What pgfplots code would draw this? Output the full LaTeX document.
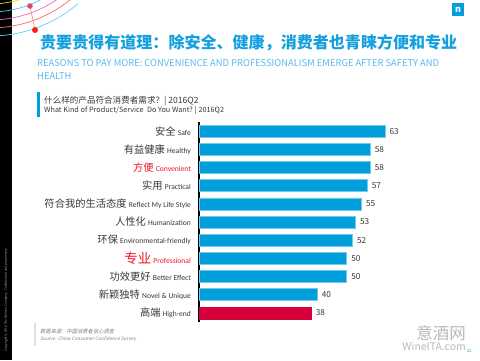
\documentclass[border=0pt]{standalone}
\usepackage{pgfplots}
\pgfplotsset{compat=1.18}
\usepackage{fontspec}
\setmainfont{Noto Sans CJK SC}
\newfontfamily\srcfont[FakeSlant=0.2]{Noto Sans CJK SC}
\newfontfamily\enf{Carlito}
\definecolor{nblue}{RGB}{0,158,219}
\definecolor{tblue}{RGB}{20,160,222}
\definecolor{lblue}{RGB}{90,185,232}
\definecolor{nred}{RGB}{214,0,58}
\definecolor{lred}{RGB}{240,20,30}
\definecolor{dgray}{RGB}{55,55,55}
\newcommand{\zh}{\fontsize{10.3}{12}\selectfont}
\newcommand{\en}{\enf\fontsize{7.6}{9}\selectfont}
\begin{document}
\begin{tikzpicture}[x=1bp,y=-1bp]
\path[use as bounding box] (0,0) rectangle (480,360);
% left strip
\fill[black] (0,0) rectangle (12,360);
\node[rotate=90, anchor=west, font=\fontsize{3.2}{4}\selectfont, text=gray!70] at (6,355) {Copyright \textcopyright{} 2016 The Nielsen Company. Confidential and proprietary.};
% decoration
\begin{scope}
\clip (0,0) rectangle (78,40);
\foreach \r/\c in {88/magenta!50, 96/purple!60, 104/yellow!80!orange, 112/cyan!70, 120/magenta!60, 128/red!60, 136/cyan!60}{
  \draw[\c, line width=0.7bp] (-10,-100) circle[radius=\r];
}
\draw[red!50, line width=0.6bp] (30,6) -- (35,30);
\end{scope}
\fill[purple!70] (30,6) circle[radius=2.8];
\fill[red!85!pink] (35,30) circle[radius=3];
% logo
\fill[nblue] (452,3) rectangle (464,16);
\node[text=white, font=\bfseries\fontsize{9}{10}\selectfont] at (458,10) {n};
% titles
\node[anchor=base west, inner sep=0pt, text=tblue, font=\bfseries\fontsize{16.1}{18}\selectfont] at (40,48) {贵要贵得有道理：除安全、健康，消费者也青睐方便和专业};
\node[anchor=base west, inner sep=0pt, text=lblue, font=\fontsize{9.4}{10}\selectfont] at (37,66) {REASONS TO PAY MORE: CONVENIENCE AND PROFESSIONALISM EMERGE AFTER SAFETY AND};
\node[anchor=base west, inner sep=0pt, text=lblue, font=\fontsize{9.4}{10}\selectfont] at (37,79) {HEALTH};
\fill[nblue] (37,92) rectangle (40,117);
\node[anchor=base west, inner sep=0pt, text=dgray, font=\fontsize{8.6}{9}\selectfont] at (44,103) {什么样的产品符合消费者需求？| 2016Q2};
\node[anchor=base west, inner sep=0pt, text=dgray, font=\fontsize{7.3}{8}\selectfont] at (44,112) {What Kind of Product/Service\ \ Do You Want? | 2016Q2};
% source
\fill[gray!25] (34,323) rectangle (36,346);
\node[anchor=base west, inner sep=0pt, text=gray, font=\srcfont\fontsize{5.3}{7}\selectfont] at (40,333) {数据来源：中国消费者信心调查};
\node[anchor=base west, inner sep=0pt, text=gray, font=\srcfont\fontsize{4.7}{6}\selectfont] at (40,340.5) {Source: China Consumer Confidence Survey};
% watermark
\node[anchor=base east, inner sep=0pt, text=gray!55, font=\fontsize{16.5}{18}\selectfont] at (466,339) {意酒网};
\node[anchor=base east, inner sep=0pt, text=gray!55, font=\fontsize{10.5}{12}\selectfont] at (466,350) {WineITA.com};
\node[anchor=base west, inner sep=0pt, text=nblue, font=\fontsize{4}{5}\selectfont] at (467,352) {22};
% chart
\begin{axis}[
  at={(199bp,-322bp)}, anchor=south west,
  scale only axis, width=250.75bp, height=200bp,
  xmin=0, xmax=85, ymin=-0.5, ymax=10.5, y dir=reverse,
  xbar, bar width=12bp, bar shift=0pt,
  hide x axis,
  axis y line*=left,
  y axis line style={line width=1.6bp, black, -},
  ytick={0,...,10},
  yticklabels={
    {{\zh 安全} {\en Safe}},
    {{\zh 有益健康} {\en Healthy}},
    {\color{lred}{\zh 方便} {\en Convenient}},
    {{\zh 实用} {\en Practical}},
    {{\zh 符合我的生活态度} {\en Reflect My Life Style}},
    {{\zh 人性化} {\en Humanization}},
    {{\zh 环保} {\en Environmental-friendly}},
    {\color{lred}{\fontsize{13.5}{14}\selectfont 专业} {\en Professional}},
    {{\zh 功效更好} {\en Better Effect}},
    {{\zh 新颖独特} {\en Novel \& Unique}},
    {{\zh 高端} {\en High-end}}
  },
  major tick length=0pt,
  yticklabel style={text=dgray, inner sep=0pt, anchor=east, xshift=-8bp},
  nodes near coords,
  nodes near coords style={font=\fontsize{8.3}{9}\selectfont, text=dgray, anchor=west, inner sep=1bp, xshift=3.5bp},
  /pgf/number format/assume math mode=true,
  clip=false,
]
\addplot[fill=nblue, draw=nblue!55!white, line width=0.5bp] coordinates {
  (63,0) (58,1) (58,2) (57,3) (55,4) (53,5) (52,6) (50,7) (50,8) (40,9)
};
\addplot[fill=nred, draw=nred, line width=0.5bp] coordinates {(38,10)};
\end{axis}
\end{tikzpicture}
\end{document}
